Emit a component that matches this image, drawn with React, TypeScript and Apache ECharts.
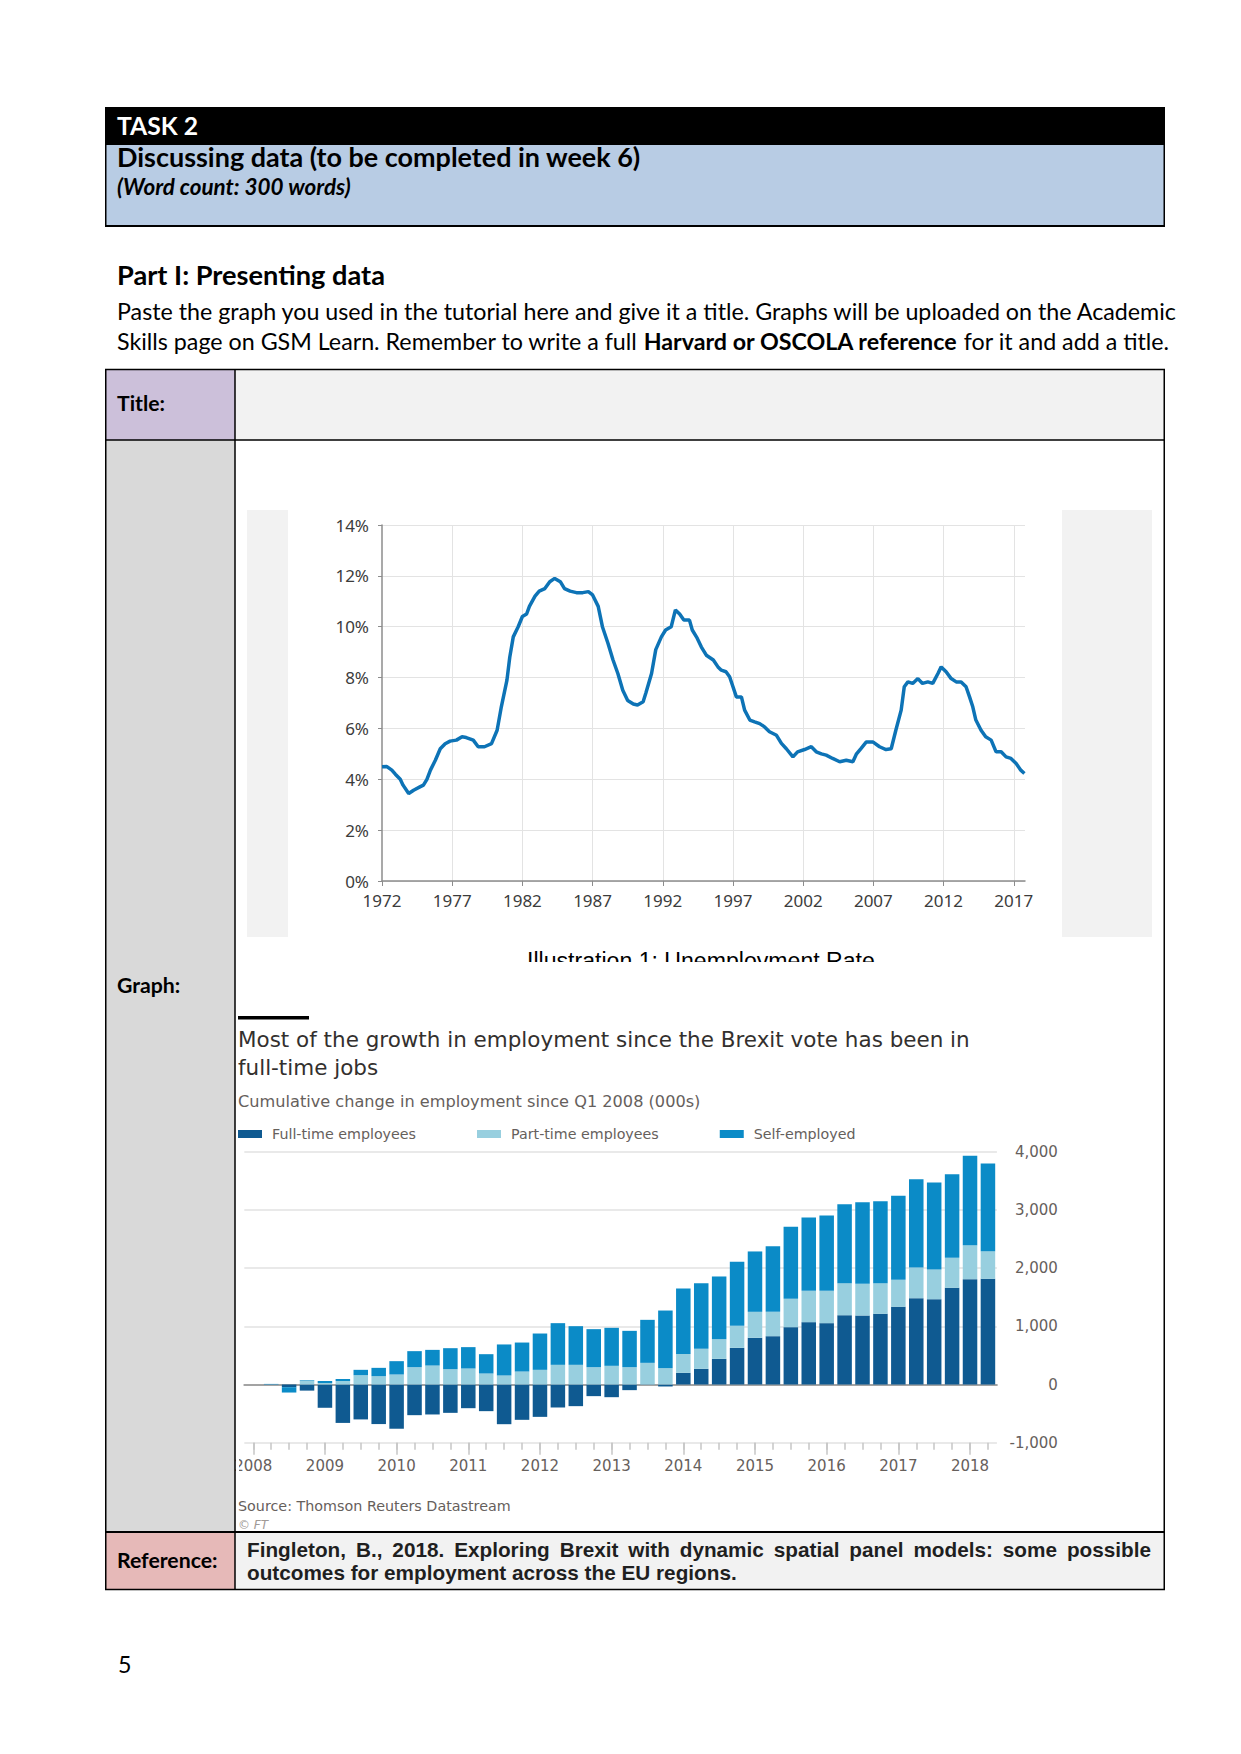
import React, { useEffect, useRef } from 'react';
import * as echarts from 'echarts';

// ---------- Line chart: unemployment rate (%) ----------
const lineBaseYear = 1972;
const unempYears = [
  1972.0, 1972.35, 1972.7, 1972.95, 1973.3, 1973.5, 1973.9, 1974.25, 1974.7, 1974.95,
  1975.2, 1975.45, 1975.8, 1976.15, 1976.5, 1976.85, 1977.3, 1977.7, 1978.0, 1978.5,
  1978.85, 1979.3, 1979.8, 1980.2, 1980.5, 1980.9, 1981.1, 1981.35, 1981.7, 1982.0,
  1982.3, 1982.5, 1982.9, 1983.2, 1983.6, 1983.95, 1984.3, 1984.7, 1985.0, 1985.4,
  1985.85, 1986.3, 1986.7, 1987.0, 1987.4, 1987.7, 1988.1, 1988.45, 1988.8, 1989.15,
  1989.5, 1989.9, 1990.2, 1990.6, 1990.8, 1991.2, 1991.5, 1991.9, 1992.2, 1992.6,
  1992.9, 1993.2, 1993.5, 1993.9, 1994.1, 1994.45, 1994.75, 1995.1, 1995.6, 1995.93,
  1996.17, 1996.5, 1996.76, 1997.0, 1997.24, 1997.6, 1997.83, 1998.2, 1998.54, 1998.9,
  1999.25, 1999.6, 2000.1, 2000.45, 2000.8, 2001.27, 2001.6, 2002.1, 2002.58, 2002.93,
  2003.3, 2003.64, 2004.1, 2004.6, 2005.07, 2005.54, 2005.8, 2006.1, 2006.5, 2006.96,
  2007.44, 2007.9, 2008.27, 2008.6, 2008.98, 2009.2, 2009.46, 2009.8, 2010.17, 2010.5,
  2010.88, 2011.23, 2011.6, 2011.83, 2012.18, 2012.54, 2012.9, 2013.25, 2013.6, 2013.85,
  2014.08, 2014.3, 2014.67, 2015.0, 2015.39, 2015.74, 2016.1, 2016.45, 2016.8, 2017.17,
  2017.5, 2017.76,
];
const unempRate = [
  4.49, 4.5, 4.36, 4.2, 4.0, 3.77, 3.44, 3.57, 3.7, 3.77,
  4.0, 4.36, 4.75, 5.2, 5.4, 5.5, 5.54, 5.67, 5.64, 5.54,
  5.28, 5.28, 5.4, 5.93, 6.85, 7.9, 8.8, 9.6, 10.0, 10.4,
  10.5, 10.8, 11.2, 11.4, 11.5, 11.77, 11.9, 11.77, 11.5, 11.4,
  11.34, 11.34, 11.38, 11.25, 10.8, 10.0, 9.34, 8.7, 8.16, 7.5,
  7.1, 6.96, 6.92, 7.05, 7.4, 8.16, 9.1, 9.6, 9.87, 10.0,
  10.66, 10.5, 10.26, 10.26, 9.87, 9.55, 9.2, 8.88, 8.69, 8.42,
  8.29, 8.23, 8.03, 7.64, 7.24, 7.24, 6.72, 6.33, 6.26, 6.19,
  6.06, 5.87, 5.73, 5.41, 5.2, 4.88, 5.08, 5.17, 5.28, 5.08,
  5.0, 4.95, 4.82, 4.69, 4.75, 4.69, 5.0, 5.2, 5.47, 5.47,
  5.28, 5.17, 5.2, 5.93, 6.72, 7.64, 7.83, 7.77, 7.96, 7.77,
  7.83, 7.77, 8.16, 8.42, 8.23, 7.96, 7.83, 7.83, 7.64, 7.24,
  6.85, 6.33, 5.93, 5.67, 5.54, 5.08, 5.08, 4.88, 4.82, 4.62,
  4.36, 4.23,
];

// ---------- Bar chart: cumulative change in employment since Q1 2008 (000s) ----------
const quarters = [
  '2008 Q1', '2008 Q2', '2008 Q3', '2008 Q4', '2009 Q1', '2009 Q2', '2009 Q3', '2009 Q4',
  '2010 Q1', '2010 Q2', '2010 Q3', '2010 Q4', '2011 Q1', '2011 Q2', '2011 Q3', '2011 Q4',
  '2012 Q1', '2012 Q2', '2012 Q3', '2012 Q4', '2013 Q1', '2013 Q2', '2013 Q3', '2013 Q4',
  '2014 Q1', '2014 Q2', '2014 Q3', '2014 Q4', '2015 Q1', '2015 Q2', '2015 Q3', '2015 Q4',
  '2016 Q1', '2016 Q2', '2016 Q3', '2016 Q4', '2017 Q1', '2017 Q2', '2017 Q3', '2017 Q4',
  '2018 Q1', '2018 Q2',
];
const fullTime = [
  0, -8, -46, -105, -400, -660, -600, -680, -760, -527,
  -515, -487, -407, -458, -682, -607, -556, -395, -372, -200,
  -218, -97, -5, -34, 200, 269, 441, 630, 802, 830,
  985, 1071, 1054, 1191, 1186, 1214, 1334, 1483, 1466, 1661,
  1810, 1816,
];
const partTime = [
  0, 6, 0, 65, 25, 60, 160, 143, 172, 298,
  326, 263, 275, 189, 155, 223, 252, 338, 338, 298,
  321, 298, 372, 281, 326, 344, 338, 378, 447, 418,
  487, 538, 556, 550, 544, 527, 464, 527, 510, 515,
  584, 475,
];
const selfEmployed = [
  0, 4, -92, 10, 35, 35, 92, 143, 229, 275,
  269, 361, 367, 332, 533, 498, 624, 716, 664, 653,
  653, 624, 739, 990, 1123, 1128, 1077, 1100, 1037, 1128,
  1237, 1260, 1294, 1357, 1403, 1409, 1443, 1518, 1495, 1438,
  1535, 1506,
];
const seriesNames = ['Full-time employees', 'Part-time employees', 'Self-employed'];

// ---------- Page texts ----------
const paraLine1 = 'Paste the graph you used in the tutorial here and give it a title. Graphs will be uploaded on the Academic';
const paraLine2 = 'Skills page on GSM Learn. Remember to write a full {b|Harvard or OSCOLA reference} for it and add a title.';
const refLine1 = 'Fingleton, B., 2018. Exploring Brexit with dynamic spatial panel models: some possible';
const refLine2 = 'outcomes for employment across the EU regions.';

const K: Record<string, number> = {
  Lato: 0.387, 'Open Sans': 0.388, 'Noto Sans': 0.388, 'Liberation Sans': 0.347, 'DejaVu Sans': 0.346,
};
const FT = 'DejaVu Sans';

export default function App() {
  const ref = useRef<HTMLDivElement>(null);
  useEffect(() => {
    const chart = echarts.init(ref.current!, undefined, { renderer: 'svg', width: 1241, height: 1754 });
    const ctx = document.createElement('canvas').getContext('2d')!;
    const measure = (t: string, family: string, weight = 'normal', style = 'normal', size = 100) => {
      ctx.font = `${style} ${weight} ${size}px '${family}'`;
      return ctx.measureText(t).width;
    };
    const fit = (t: string, family: string, target: number, weight = 'normal', style = 'normal') =>
      (100 * target) / measure(t, family, weight, style, 100);

    const G: any[] = [];
    const rect = (x: number, y: number, w: number, h: number, fill: string, z = -5) =>
      G.push({ type: 'rect', silent: true, z, shape: { x, y, width: w, height: h }, style: { fill } });
    const line = (x1: number, y1: number, x2: number, y2: number, w = 1.5, stroke = '#000', z = 5) =>
      G.push({ type: 'line', silent: true, z, shape: { x1, y1, x2, y2 }, style: { stroke, lineWidth: w } });
    const T = (text: string, x: number, base: number, size: number, family: string, o: any = {}) =>
      G.push({
        type: 'text', silent: true, z: o.z ?? 10, x, y: base - K[family] * size,
        style: {
          text, fill: o.fill || '#000', fontSize: size, fontFamily: family,
          fontWeight: o.weight || 'normal', fontStyle: o.italic ? 'italic' : 'normal',
          align: 'left', verticalAlign: 'middle', rich: o.rich,
        },
      });

    // Header box
    rect(105, 107, 1060, 38, '#000');
    rect(105, 145, 1060, 82, '#B8CCE4');
    line(105.75, 145, 105.75, 227);
    line(1164.25, 145, 1164.25, 227);
    line(105, 226, 1165, 226, 2);
    T('TASK 2', 117, 135, fit('TASK 2', 'Lato', 81, 'bold'), 'Lato', { weight: 'bold', fill: '#fff' });
    T('Discussing data (to be completed in week 6)', 117, 167,
      fit('Discussing data (to be completed in week 6)', 'Lato', 524, 'bold'), 'Lato', { weight: 'bold' });
    T('(Word count: 300 words)', 117, 195, fit('(Word count: 300 words)', 'Lato', 234, 'bold', 'italic'), 'Lato',
      { weight: 'bold', italic: true });

    // Part I
    T('Part I: Presenting data', 117, 285, fit('Part I: Presenting data', 'Lato', 268, 'bold'), 'Lato', { weight: 'bold' });
    const pSize = fit(paraLine1, 'Lato', 1061);
    T(paraLine1, 117, 320, pSize, 'Lato');
    T(paraLine2, 117, 350, pSize, 'Lato', {
      rich: { b: { fontWeight: 'bold', fontSize: pSize, fontFamily: 'Lato', fill: '#000' } },
    });

    // Table
    rect(105, 369, 130, 71, '#CCC0DA');
    rect(235, 369, 930, 71, '#F2F2F2');
    rect(105, 440, 130, 1092, '#D9D9D9');
    rect(235, 440, 930, 1092, '#FFFFFF');
    rect(105, 1532, 130, 58, '#E6B9B8');
    rect(235, 1532, 930, 58, '#F2F2F2');
    line(105.75, 369, 105.75, 1590);
    line(1164.25, 369, 1164.25, 1590);
    line(105, 369.5, 1165, 369.5);
    line(105, 1589.5, 1165, 1589.5, 1.5);
    line(235, 369, 235, 1590);
    line(105, 440, 1165, 440);
    line(105, 1532, 1165, 1532, 2);
    const labSize = fit('Title:', 'Lato', 48, 'bold');
    T('Title:', 117, 411, labSize, 'Lato', { weight: 'bold' });
    T('Graph:', 117, 993, labSize, 'Lato', { weight: 'bold' });
    T('Reference:', 117, 1568, labSize, 'Lato', { weight: 'bold' });
    T('5', 118, 1673, pSize, 'Lato');

    // Reference text (justified first line)
    const rSize = fit(refLine2, 'Liberation Sans', 490, 'bold');
    const words = refLine1.split(' ');
    const ww = words.map((w) => measure(w, 'Liberation Sans', 'bold', 'normal', rSize));
    const gap = (904 - ww.reduce((a, b) => a + b, 0)) / (words.length - 1);
    let cx = 247;
    words.forEach((w, i) => {
      T(w, cx, 1557, rSize, 'Liberation Sans', { weight: 'bold', fill: '#1f1f1f' });
      cx += ww[i] + gap;
    });
    T(refLine2, 247, 1580, rSize, 'Liberation Sans', { weight: 'bold', fill: '#1f1f1f' });

    // Line chart screenshot side strips
    rect(247, 510, 41, 427, '#F2F2F2', -4);
    rect(1062, 510, 90, 427, '#F2F2F2', -4);
    // Caption (cut off at the bottom)
    const capText = 'Illustration 1: Unemployment Rate';
    const capSize = fit(capText, 'Liberation Sans', 348);
    T(capText, 527, 952 + 0.716 * capSize, capSize, 'Liberation Sans');
    G.push({ type: 'rect', silent: true, z: 11, shape: { x: 500, y: 962, width: 420, height: 40 }, style: { fill: '#fff' } });

    // FT chart texts
    rect(238, 1016, 71, 3.5, '#000', 6);
    const ftT1 = 'Most of the growth in employment since the Brexit vote has been in';
    const tSize = fit(ftT1, FT, 732);
    T(ftT1, 238, 1047, tSize, FT, { fill: '#33302e' });
    T('full-time jobs', 238, 1075, tSize, FT, { fill: '#33302e' });
    const sub = 'Cumulative change in employment since Q1 2008 (000s)';
    T(sub, 238, 1107, fit(sub, FT, 463), FT, { fill: '#66605c' });
    const src = 'Source: Thomson Reuters Datastream';
    T(src, 238, 1511, fit(src, FT, 273), FT, { fill: '#66605c' });
    T('© FT', 238, 1529, 12, FT, { fill: '#a09a96', italic: true });
    const legSize = fit(seriesNames[0], FT, 144);
    // the embedded FT image is clipped at its left edge (cuts into the first year label)
    G.push({ type: 'rect', silent: true, z: 11, shape: { x: 236, y: 1455, width: 3, height: 26 }, style: { fill: '#fff' } });

    const axGray = '#8c8c8c';
    const option: any = {
      animation: false,
      graphic: { elements: G },
      legend: {
        left: 238, top: 1127, padding: 0, itemWidth: 24, itemHeight: 8, itemGap: 61, icon: 'rect',
        selectedMode: false, data: seriesNames,
        textStyle: { color: '#66605c', fontSize: legSize, fontFamily: FT, padding: [0, 0, 0, 5] },
      },
      grid: [
        { left: 382, top: 525, width: 643, height: 356, containLabel: false },
        { left: 244.3, top: 1151.7, width: 752.6, height: 291, containLabel: false },
      ],
      xAxis: [
        {
          gridIndex: 0, type: 'value', min: 0, max: 45.8, interval: 5,
          axisLine: { show: true, onZero: false, lineStyle: { color: axGray, width: 1.5 } },
          axisTick: { show: true, length: 5, lineStyle: { color: axGray } },
          axisLabel: {
            formatter: (v: number) => String(lineBaseYear + v), showMaxLabel: false,
            color: '#3c3c3c', fontSize: 17, fontFamily: 'Noto Sans', margin: 11,
          },
          splitLine: { show: true, showMinLine: false, showMaxLine: false, lineStyle: { color: '#e3e3e3' } },
        },
        {
          gridIndex: 1, type: 'category', data: quarters, position: 'bottom',
          axisLine: { show: false, onZero: false },
          axisTick: { show: true, alignWithLabel: true, interval: 3, length: 12, lineStyle: { color: '#c6c6c6', width: 1.5 } },
          axisLabel: {
            interval: 3, formatter: (v: string) => v.slice(0, 4),
            color: '#66605c', fontSize: 15, fontFamily: FT, margin: 16,
          },
          splitLine: { show: false },
        },
        {
          gridIndex: 1, type: 'category', data: quarters, position: 'bottom',
          axisLine: { show: false, onZero: false },
          axisTick: { show: true, alignWithLabel: true, interval: 0, length: 7, lineStyle: { color: '#c6c6c6', width: 1.5 } },
          axisLabel: { show: false },
          splitLine: { show: false },
        },
        {
          gridIndex: 1, type: 'category', data: quarters,
          axisLine: { show: true, onZero: true, lineStyle: { color: '#a3a3a3', width: 2 } },
          axisTick: { show: false }, axisLabel: { show: false }, splitLine: { show: false },
        },
      ],
      yAxis: [
        {
          gridIndex: 0, type: 'value', min: 0, max: 14, interval: 2,
          axisLine: { show: true, lineStyle: { color: axGray, width: 1.5 } },
          axisTick: { show: true, length: 4, lineStyle: { color: axGray } },
          axisLabel: { formatter: '{value}%', color: '#3c3c3c', fontSize: 17, fontFamily: 'Noto Sans', margin: 13 },
          splitLine: { show: true, lineStyle: { color: '#e3e3e3' } },
        },
        {
          gridIndex: 1, type: 'value', position: 'right', min: -1000, max: 4000, interval: 1000,
          axisLine: { show: false }, axisTick: { show: false },
          axisLabel: {
            align: 'right', margin: 61, color: '#66605c', fontSize: 15, fontFamily: FT,
            formatter: (v: number) => v.toLocaleString('en-US'),
          },
          splitLine: { show: true, lineStyle: { color: '#e2e2e2', width: 1.5 } },
        },
      ],
      series: [
        {
          type: 'line', name: 'Unemployment rate', xAxisIndex: 0, yAxisIndex: 0,
          data: unempYears.map((y, i) => [y - lineBaseYear, unempRate[i]]),
          showSymbol: false, symbol: 'none', silent: true, z: 3,
          lineStyle: { color: '#0d73b6', width: 3.5 }, itemStyle: { color: '#0d73b6' },
        },
        {
          type: 'bar', name: seriesNames[0], xAxisIndex: 1, yAxisIndex: 1, stack: 'emp', data: fullTime,
          barCategoryGap: '19%', itemStyle: { color: '#0f5a91' }, silent: true,
        },
        {
          type: 'bar', name: seriesNames[1], xAxisIndex: 1, yAxisIndex: 1, stack: 'emp', data: partTime,
          barCategoryGap: '19%', itemStyle: { color: '#98cfdf' }, silent: true,
        },
        {
          type: 'bar', name: seriesNames[2], xAxisIndex: 1, yAxisIndex: 1, stack: 'emp', data: selfEmployed,
          barCategoryGap: '19%', itemStyle: { color: '#0b8bc7' }, silent: true,
        },
      ],
    };
    chart.setOption(option);
    return () => chart.dispose();
  }, []);
  return (
    <div
      ref={ref}
      style={{ position: 'absolute', left: 0, top: 0, width: 1241, height: 1754, background: '#fff' }}
    />
  );
}
